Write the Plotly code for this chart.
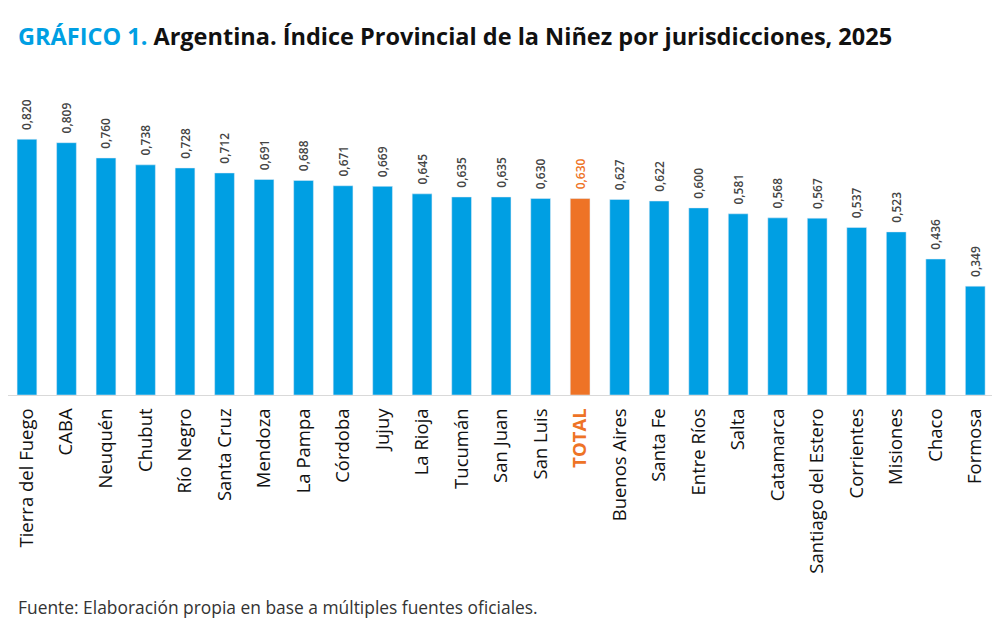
import plotly.graph_objects as go

jurisdicciones = ["Tierra del Fuego", "CABA", "Neuquén", "Chubut", "Río Negro", "Santa Cruz",
                  "Mendoza", "La Pampa", "Córdoba", "Jujuy", "La Rioja", "Tucumán", "San Juan",
                  "San Luis", "TOTAL", "Buenos Aires", "Santa Fe", "Entre Ríos", "Salta",
                  "Catamarca", "Santiago del Estero", "Corrientes", "Misiones", "Chaco", "Formosa"]
valores = [0.820, 0.809, 0.760, 0.738, 0.728, 0.712, 0.691, 0.688, 0.671, 0.669, 0.645,
           0.635, 0.635, 0.630, 0.630, 0.627, 0.622, 0.600, 0.581, 0.568, 0.567, 0.537,
           0.523, 0.436, 0.349]

BLUE = "#009FE3"
ORANGE = "#EE7326"

colors = [ORANGE if j == "TOTAL" else BLUE for j in jurisdicciones]
text_colors = [ORANGE if j == "TOTAL" else "#444444" for j in jurisdicciones]
labels = ["\u00a0\u00a0" + f"{v:.3f}".replace(".", ",") for v in valores]
ticktext = [f"<span style='color:{ORANGE}'><b>{j}</b></span>" if j == "TOTAL" else j
            for j in jurisdicciones]

T, B = 82, 254
fig = go.Figure(go.Bar(
    x=jurisdicciones, y=valores, marker_color=colors, width=0.5,
    text=labels, textposition="outside", textangle=-90, constraintext="none",
    textfont=dict(size=12, color=text_colors, family="Open Sans", weight=600),
    cliponaxis=False, hoverinfo="skip",
))

fig.update_layout(
    width=1000, height=641,
    margin=dict(l=0, r=13, t=T, b=B, autoexpand=False),
    plot_bgcolor="white", paper_bgcolor="white",
    font=dict(family="Open Sans", color="#222222"),
    showlegend=False,
    title=dict(
        text=f"<b><span style='color:{BLUE}'>GRÁFICO 1.</span> Argentina. Índice Provincial de la Niñez por jurisdicciones, 2025</b>",
        x=0.01, xanchor="left", y=1 - 29 / 641, yanchor="middle",
        font=dict(size=23.5, color="#111111", family="Open Sans"),
    ),
    xaxis=dict(tickmode="array", tickvals=jurisdicciones, ticktext=ticktext,
               range=[-0.48, 24.5],
               tickangle=-90, tickfont=dict(size=18.5, color="#111111", weight=500),
               showline=True, linecolor="#D9D9D9", linewidth=1, ticks="outside", ticklen=5,
               tickcolor="rgba(0,0,0,0)", showgrid=False),
    yaxis=dict(range=[0, 0.978], visible=False, showgrid=False, zeroline=False),
    annotations=[dict(
        text="Fuente: Elaboración propia en base a múltiples fuentes oficiales.",
        x=0.008, xref="paper", xanchor="left",
        y=(641 - B - 599) / (641 - T - B), yref="paper", yanchor="middle",
        showarrow=False, font=dict(size=17.4, color="#333333"),
    )],
)

fig.write_html("out.html")
